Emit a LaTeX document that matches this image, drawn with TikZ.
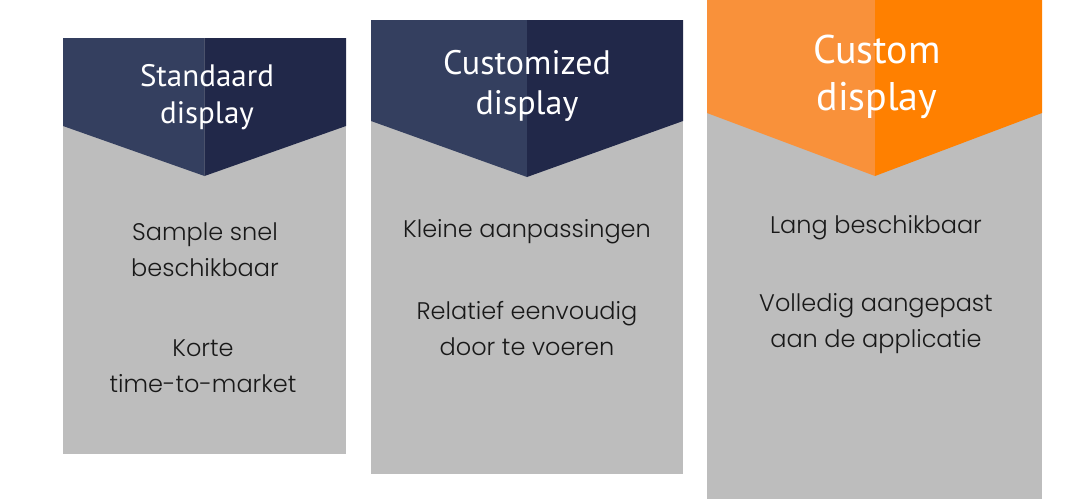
\documentclass[tikz,border=0pt]{standalone}
\usepackage{fontspec}
\setmainfont{Poppins}[UprightFont=* Light]
\newfontfamily\headfont{PT Sans}
\usepackage{tikz}
\definecolor{navylight}{HTML}{343F5F}
\definecolor{navydark}{HTML}{212849}
\definecolor{orangelight}{HTML}{F9913A}
\definecolor{orangedark}{HTML}{FF8000}
\definecolor{panelgray}{HTML}{BDBDBD}
\tikzset{
  headtext/.style={text=white, align=center, font=\headfont},
  bodytext/.style={text=black!90, align=center, font=\fontsize{24}{36}\selectfont}
}

\begin{document}
\begin{tikzpicture}[x=1pt,y=-1pt]
\useasboundingbox (0,0) rectangle (1084,499);
% gray panels
\fill[panelgray] (63,38) rectangle (346,454);
\fill[panelgray] (371,20) rectangle (683,474);
\fill[panelgray] (707,0) rectangle (1042,499);
% chevron headers, light left half and dark right half
\fill[navylight] (63,38) -- (204.5,38) -- (204.5,176) -- (63,126) -- cycle;
\fill[navydark] (204.5,38) -- (346,38) -- (346,126) -- (204.5,176) -- cycle;
\fill[navylight] (371,20) -- (527,20) -- (527,177) -- (371,121) -- cycle;
\fill[navydark] (527,20) -- (683,20) -- (683,121) -- (527,177) -- cycle;
\fill[orangelight] (707,0) -- (875,0) -- (875,176) -- (707,113) -- cycle;
\fill[orangedark] (875,0) -- (1042,0) -- (1042,113) -- (875,176) -- cycle;
% titles
\node[headtext, font=\headfont\fontsize{31}{37}\selectfont] (standaard) at (207,97) {Standaard\\display};
\node[headtext, font=\headfont\fontsize{34}{40}\selectfont] (customized) at (527,86) {Customized\\display};
\node[headtext, font=\headfont\fontsize{40}{47}\selectfont] (custom) at (877,77) {Custom\\display};
% properties
\node[bodytext] (sample) at (205,250) {Sample snel\\beschikbaar};
\node[bodytext] (korte) at (203,366) {Korte\\time-to-market};
\node[bodytext] (kleine) at (527,232) {Kleine aanpassingen};
\node[bodytext] (relatief) at (527,329) {Relatief eenvoudig\\door te voeren};
\node[bodytext] (lang) at (876,228) {Lang beschikbaar};
\node[bodytext] (volledig) at (876,324) {Volledig aangepast\\aan de applicatie};
\end{tikzpicture}
\end{document}
